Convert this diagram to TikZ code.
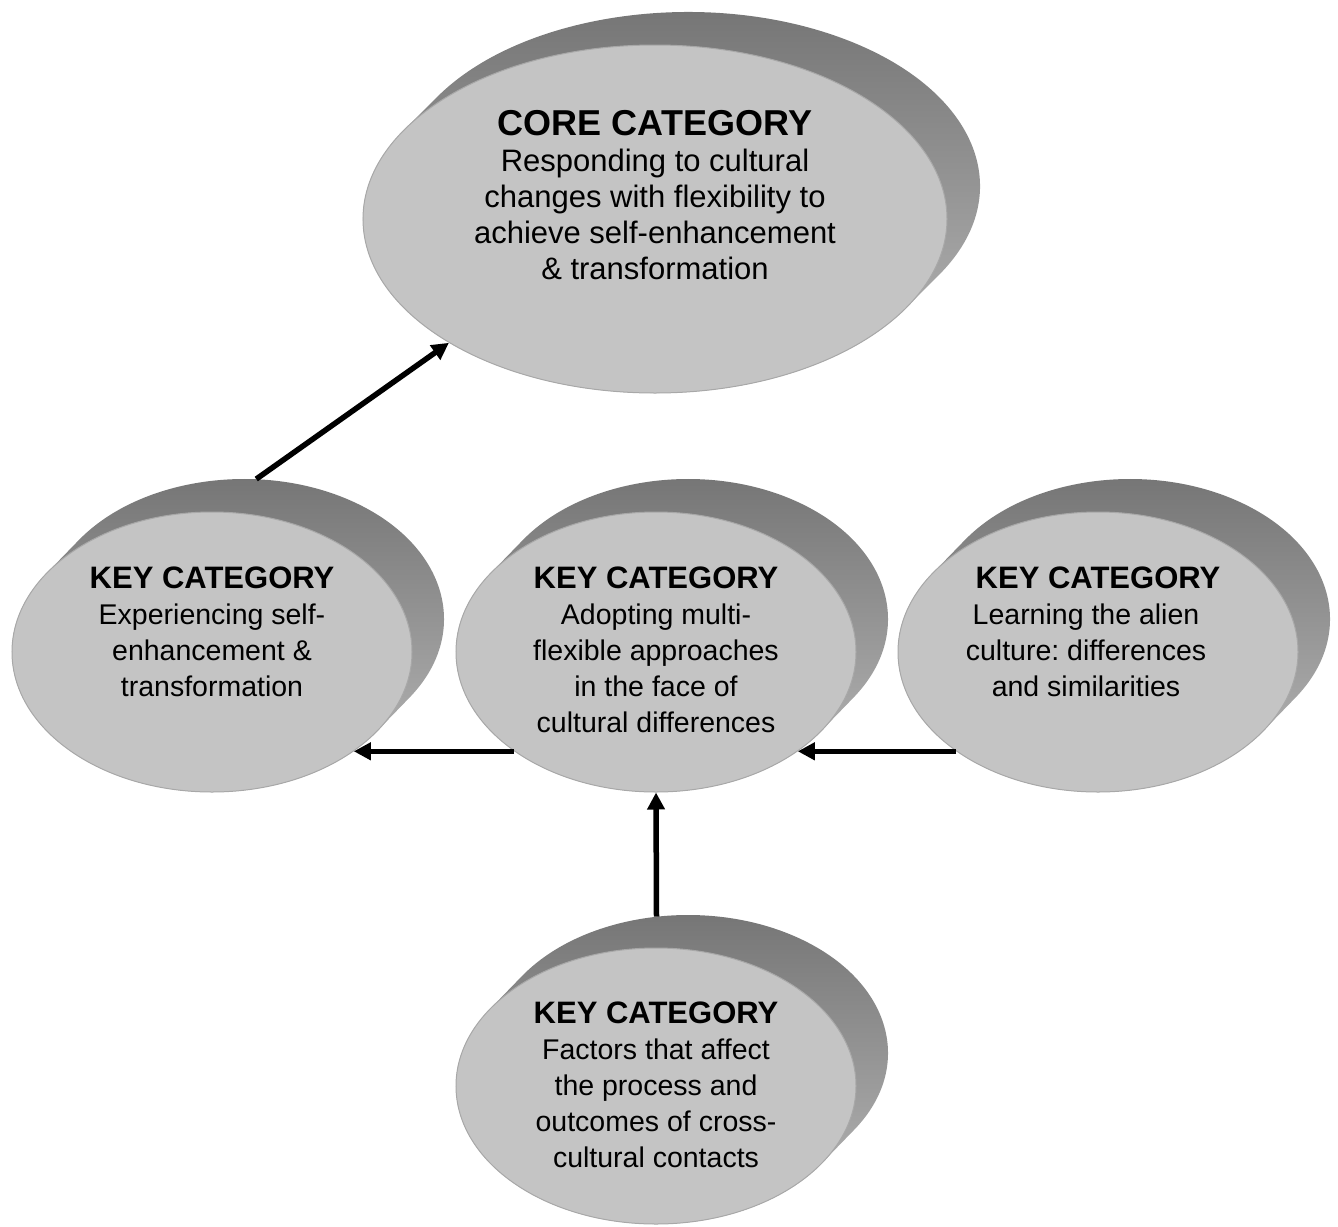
\documentclass[tikz,border=0pt]{standalone}
\usepackage{fontspec}
\setmainfont{Liberation Sans}
\usetikzlibrary{shapes.geometric,arrows.meta,calc}
\frenchspacing
\definecolor{facegray}{HTML}{C4C4C4}
\definecolor{faceedge}{HTML}{A8A8A8}
\definecolor{sidetop}{HTML}{727272}
\definecolor{sidebot}{HTML}{BDBDBD}
% extruded side of an ellipse: cx cy rx ry dx dy (y up)
\newcommand\cylside[6]{%
  \pgfmathsetmacro\cyang{atan(-(#4)*(#5)/((#3)*(#6)))}%
  \pgfmathsetmacro\cyangb{\cyang+180}%
  \pgfmathsetmacro\cyangc{\cyang+360}%
  \pgfmathsetmacro\cyax{#1+(#3)*cos(\cyang)}%
  \pgfmathsetmacro\cyay{#2+(#4)*sin(\cyang)}%
  \shade[sideshade] (\cyax,\cyay) -- ++(#5,#6)
    arc[start angle=\cyang, end angle=\cyangb, x radius=#3pt, y radius=#4pt]
    -- ++(-#5,-#6)
    arc[start angle=\cyangb, end angle=\cyangc, x radius=#3pt, y radius=#4pt] -- cycle;
}
\newcommand\keytext[1]{{\fontsize{28.5}{36}\selectfont
  \begin{tabular}[t]{@{}c@{}}{\fontsize{31}{36}\selectfont\bfseries KEY CATEGORY}\\#1\end{tabular}}}
\tikzset{
  sideshade/.style={top color=sidetop, bottom color=sidebot},
  keyface/.style={ellipse, fill=facegray, draw=faceedge, line width=1pt, inner sep=0pt,
    minimum width=400pt, minimum height=280pt},
  keyback/.style={ellipse, inner sep=0pt, minimum width=400pt, minimum height=280pt},
  coreface/.style={ellipse, fill=facegray, draw=faceedge, line width=1pt, inner sep=0pt,
    minimum width=584pt, minimum height=348pt},
  coreback/.style={ellipse, inner sep=0pt, minimum width=584pt, minimum height=348pt},
  txt/.style={anchor=base, inner sep=0pt},
  arr/.style={line width=5.5pt, -{Triangle[length=17pt,width=17pt]}}
}
\begin{document}
\begin{tikzpicture}[x=1pt,y=1pt]
\useasboundingbox (0,0) rectangle (1338,-1226);
% side extrusions
\cylside{655}{-219}{292}{174}{33}{33}
\cylside{212}{-652}{200}{140}{32}{33}
\cylside{656}{-652}{200}{140}{32}{33}
\cylside{1098}{-652}{200}{140}{32}{33}
\cylside{656}{-1086}{200}{138}{32}{33}
% back outlines (invisible, for connectors)
\node[coreback] (coreB) at (688,-186) {};
\node[keyback] (leftB) at (244,-619) {};
\node[keyback] (midB) at (688,-619) {};
\node[keyback] (rightB) at (1130,-619) {};
\node[keyback, minimum height=276pt] (botB) at (688,-1053) {};
% front faces
\node[coreface] (core) at (655,-219) {};
\node[keyface] (left) at (212,-652) {};
\node[keyface] (mid) at (656,-652) {};
\node[keyface] (right) at (1098,-652) {};
\node[keyface, minimum height=276pt] (bot) at (656,-1086) {};
% texts
\node[txt] (coreT) at ([yshift=84pt]core.center) {{\fontsize{31}{36}\selectfont
  \begin{tabular}[t]{@{}c@{}}{\fontsize{36}{36}\selectfont\bfseries CORE CATEGORY}\\
  Responding to cultural\\changes with flexibility to\\achieve self-enhancement\\\& transformation\end{tabular}}};
\node[txt] (leftT) at ([yshift=64pt]left.center) {\keytext{Experiencing self-\\enhancement \&\\transformation}};
\node[txt] (midT) at ([yshift=64pt]mid.center) {\keytext{Adopting multi-\\flexible approaches\\in the face of\\cultural differences}};
\node[txt] (rightT) at ([yshift=64pt]right.center) {\keytext{Learning the alien\hspace*{24pt}\\culture: differences\hspace*{24pt}\\and similarities\hspace*{24pt}}};
\node[txt] (botT) at ([yshift=63pt]bot.center) {\keytext{Factors that affect\\the process and\\outcomes of cross-\\cultural contacts}};
% connectors
\draw[arr] (mid.215) -- (left.325);
\draw[arr] (right.215) -- (mid.325);
\draw[arr] (botB.103) -- (mid.south);
\draw[arr] (leftB.85) -- (core.211);
\end{tikzpicture}
\end{document}
